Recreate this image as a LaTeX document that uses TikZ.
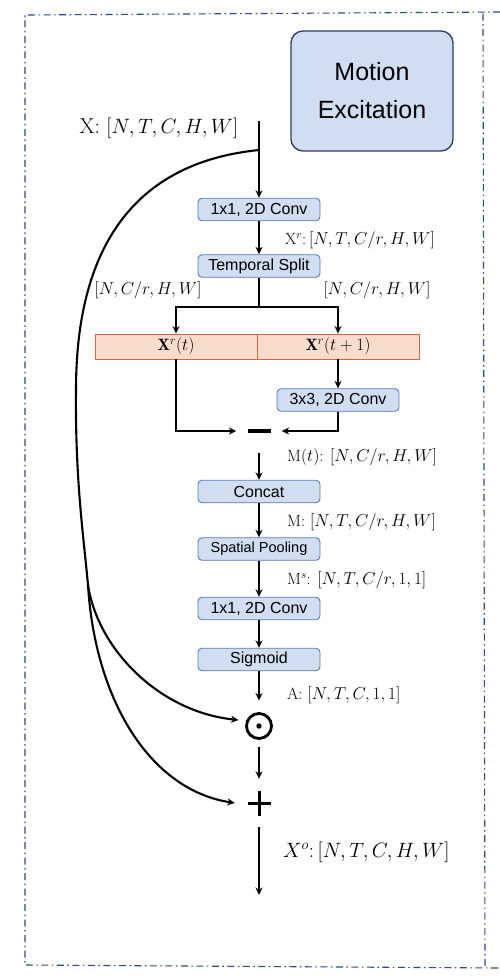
\documentclass[tikz,border=0pt]{standalone}
\usepackage{fontspec}
\newfontfamily\arial{Liberation Sans}
\usetikzlibrary{arrows.meta}
\definecolor{boxfill}{HTML}{D1DDF1}
\definecolor{boxline}{HTML}{5A79B5}
\definecolor{meline}{HTML}{2A3B63}
\definecolor{orfill}{HTML}{F9DDCC}
\definecolor{orline}{HTML}{D2693C}
\definecolor{framecol}{HTML}{2E4A82}
\begin{document}
\begin{tikzpicture}[x=1pt,y=-1pt,
 blk/.style={draw=boxline, fill=boxfill, line width=0.9pt, rounded corners=4pt,
   minimum width=122pt, minimum height=22.5pt, inner sep=0pt,
   font=\arial\fontsize{16}{18}\selectfont},
 orbox/.style={draw=orline, fill=orfill, line width=0.9pt, minimum width=162pt,
   minimum height=25pt, inner sep=0pt, font=\fontsize{16.5}{18}\selectfont},
 arr/.style={line width=2.1pt, -{Stealth[length=7.5pt,width=7pt]}},
 ln/.style={line width=2.1pt},
 lab/.style={inner sep=0pt, font=\fontsize{16.3}{18}\selectfont, anchor=west},
 framest/.style={draw=framecol, line width=1.1pt, dash pattern=on 7pt off 3.5pt on 1.5pt off 3.5pt},
]
\useasboundingbox (0,0) rectangle (500,978);
% frame
\draw[framest] (500,12) -- (25,15) -- (25,965) -- (500,968);
\draw[framest] (483,13.5) -- (485,966);

% title box
\node[draw=meline, fill=boxfill, line width=1.3pt, rounded corners=12pt,
  minimum width=162pt, minimum height=120pt, align=center,
  font=\arial\fontsize{25}{38}\selectfont] (me) at (372,91) {Motion\\Excitation};

% input label
\node[inner sep=0pt, font=\fontsize{21.5}{24}\selectfont] (lx) at (159,128) {X: $[N,T,C,H,W]$};

% boxes
\node[blk] (c1) at (259,209.5) {1x1, 2D Conv};
\node[blk] (ts) at (259,266) {Temporal Split};
\node[orbox] (xl) at (176,346.5) {$\mathbf{X}^{r}(t)$};
\node[orbox] (xr) at (338,346.5) {$\mathbf{X}^{r}(t+1)$};
\node[blk] (c3) at (338,400) {3x3, 2D Conv};
\node[minimum width=45pt, minimum height=44pt, inner sep=0pt] (minus) at (259,431) {};
\node[blk] (cc) at (259,491.5) {Concat};
\node[blk, font=\arial\fontsize{14.5}{17}\selectfont] (sp) at (259,549) {Spatial Pooling};
\node[blk] (c2) at (259,608.5) {1x1, 2D Conv};
\node[blk] (sig) at (259,659.5) {Sigmoid};
\node[circle, draw, line width=2.8pt, minimum size=25pt, inner sep=0pt, outer sep=8pt] (odot) at (259,726) {};
\node[minimum size=48pt, inner sep=0pt] (plus) at (259,803) {};
\coordinate (xin) at (259,121);
\coordinate (sk) at (259,150);
\coordinate (split) at (88,585);
\coordinate (out) at (259,895);

% symbols
\draw[line width=3.2pt] ([xshift=-11.5pt]minus.center) -- ([xshift=11.5pt]minus.center);
\fill (odot.center) circle (2.7pt);
\draw[line width=3pt] ([xshift=-11.5pt]plus.center) -- ([xshift=11.5pt]plus.center);
\draw[line width=3pt] ([yshift=12.5pt]plus.center) -- ([yshift=-12.5pt]plus.center);

% labels
\node[lab] (lxr) at (285,240) {X$^{r}$:\,$[N,T,C/r,H,W]$};
\node[lab, anchor=center] (lsl) at (148,290) {$[N,C/r,H,W]$};
\node[lab, anchor=center] (lsr) at (377,290) {$[N,C/r,H,W]$};
\node[lab] (lmt) at (287,457) {M$(t)$: $[N,C/r,H,W]$};
\node[lab] (lm) at (287,522) {M: $[N,T,C/r,H,W]$};
\node[lab] (lms) at (287,580) {M$^{s}$: $[N,T,C/r,1,1]$};
\node[lab] (la) at (287,695) {A: $[N,T,C,1,1]$};
\node[lab, font=\fontsize{21}{24}\selectfont] (lxo) at (283,852) {$X^{o}$:\,$[N,T,C,H,W]$};

% connectors
\draw[arr] (xin) -- (c1.north);
\draw[arr] (c1.south) -- (ts.north);
\draw[ln] (ts.south) -- ++(0,29) coordinate (br);
\draw[arr] (br) -| (xl.north);
\draw[arr] (br) -| (xr.north);
\draw[arr] (xr.south) -- (c3.north);
\draw[arr] (xl.south) |- (minus.west);
\draw[arr] (c3.south) |- (minus.east);
\draw[arr] (minus.south) -- (cc.north);
\draw[arr] (cc.south) -- (sp.north);
\draw[arr] (sp.south) -- (c2.north);
\draw[arr] (c2.south) -- (sig.north);
\draw[arr, shorten >=5pt] (sig.south) -- (odot.north);
\draw[arr] (odot.south) -- (plus.north);
\draw[arr] (plus.south) -- (out);

% skip connections
\draw[ln] (sk) .. controls (140,162) and (76,240) .. (76,390)
  .. controls (75,480) and (84,540) .. (split);
\draw[arr] (split) .. controls (98,650) and (160,712) .. ([yshift=6pt]odot.west);
\draw[arr] (split) .. controls (95,700) and (150,790) .. (plus.west);
\end{tikzpicture}
\end{document}
